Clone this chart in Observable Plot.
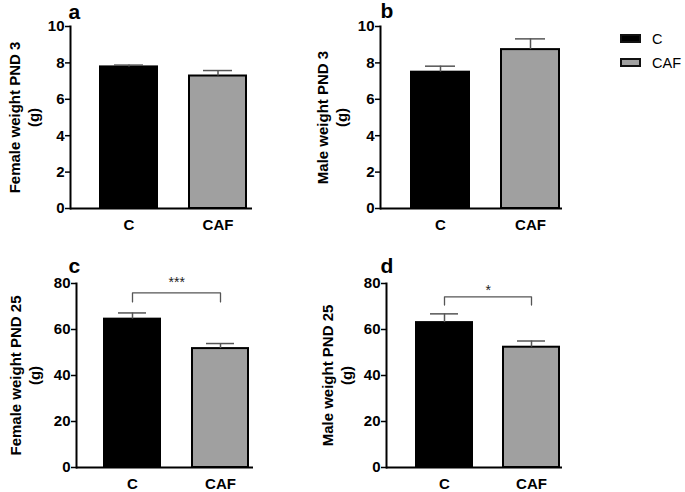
<!DOCTYPE html>
<html><head><meta charset="utf-8">
<script src="https://cdn.jsdelivr.net/npm/d3@7"></script>
<script src="https://cdn.jsdelivr.net/npm/@observablehq/plot@0.6"></script>
<style>
body{margin:0;background:#fff;font-family:"Liberation Sans",Arial,sans-serif;}
#wrap{position:relative;width:685px;height:492px;overflow:hidden;}
.panel{position:absolute;}
#legend{position:absolute;left:620px;top:31px;font-size:14.5px;color:#000;}
.row{display:flex;align-items:center;height:15px;margin-bottom:9px;}
.sw{width:21px;height:9px;box-sizing:border-box;}
.lab{margin-left:11px;}
</style></head><body><div id="wrap"><div id="legend"></div></div>
<script>
const groups = ["C", "CAF"];
const colors = ["#000000", "#a0a0a0"];
const panelLetters = ["a", "b", "c", "d"];
const yTitles = ["Female weight PND 3\n(g)", "Male weight PND 3\n(g)", "Female weight PND 25\n(g)", "Male weight PND 25\n(g)"];
const meansA = [7.78, 7.28];
const semA = [0.10, 0.30];
const meansB = [7.49, 8.73];
const semB = [0.33, 0.59];
const meansC = [64.5, 51.7];
const semC = [2.7, 2.2];
const meansD = [63.0, 52.3];
const semD = [3.8, 2.7];
const yTicksTop = [0, 2, 4, 6, 8, 10];
const yTicksBottom = [0, 20, 40, 60, 80];
const sigLabels = [null, null, "***", "*"];
const sigLabelY = [null, null, 78.4, 74.9];
const bracketTop = [null, null, 75.9, 74.2];
const bracketLeg = [null, null, 72.0, 70.6];

const panels = [
  {means: meansA, sem: semA, ticks: yTicksTop, domain: [0, 10], left: 0, top: 0, width: 260, height: 245, ml: 70, mt: 26, mb: 37, mr: 8, range: [100, 246], tdx: -47, ldx: -2, ldy: -8},
  {means: meansB, sem: semB, ticks: yTicksTop, domain: [0, 10], left: 260, top: 0, width: 310, height: 245, ml: 120, mt: 26, mb: 37, mr: 8, range: [151, 299], tdx: -49, ldx: 0, ldy: -9},
  {means: meansC, sem: semC, ticks: yTicksBottom, domain: [0, 80], left: 0, top: 250, width: 260, height: 242, ml: 76, mt: 33, mb: 25, mr: 7, range: [104, 249], tdx: -52, ldx: -8, ldy: -11},
  {means: meansD, sem: semD, ticks: yTicksBottom, domain: [0, 80], left: 260, top: 250, width: 310, height: 242, ml: 126, mt: 33, mb: 25, mr: 8, range: [156, 299], tdx: -50, ldx: -6, ldy: -11}
];
const pad = 0.36;
const wrap = document.getElementById("wrap");

panels.forEach((p, i) => {
  const data = groups.map((g, j) => ({group: g, mean: p.means[j], top: p.means[j] + p.sem[j]}));
  const step = (p.range[1] - p.range[0]) / (2 - pad);
  const marks = [
    Plot.barY(data, {x: "group", y: "mean", fill: "group", stroke: "#000", strokeWidth: 2}),
    Plot.ruleX(data, {x: "group", y1: "mean", y2: "top", stroke: "#555", strokeWidth: 1.5}),
    Plot.tickY(data, {x: "group", y: "top", stroke: "#555", strokeWidth: 1.5, insetLeft: 14, insetRight: 14}),
    Plot.ruleY([0], {stroke: "#000", strokeWidth: 2}),
    Plot.frame({anchor: "left", stroke: "#000", strokeWidth: 2}),
    Plot.axisY({ticks: p.ticks, tickSize: 5, tickPadding: 1, tickFormat: d3.format("d"), label: null, strokeWidth: 1.5, fontSize: 15}),
    Plot.axisX({tickSize: 0, tickPadding: 11, label: null, fontSize: 15}),
    Plot.text([yTitles[i]], {frameAnchor: "left", rotate: -90, dx: p.tdx, fontSize: 15, fontWeight: "bold", lineHeight: 1.25, lineAnchor: "middle", textAnchor: "middle", fill: "#000"}),
    Plot.text([panelLetters[i]], {frameAnchor: "top-left", dx: p.ldx, dy: p.ldy, fontSize: 21, fontWeight: "bold", textAnchor: "start", lineAnchor: "bottom", fill: "#000"})
  ];
  if (sigLabels[i]) {
    const br = [
      {group: "C", y: bracketLeg[i]}, {group: "C", y: bracketTop[i]},
      {group: "CAF", y: bracketTop[i]}, {group: "CAF", y: bracketLeg[i]}
    ];
    marks.push(Plot.line(br, {x: "group", y: "y", stroke: "#555", strokeWidth: 1.3}));
    marks.push(Plot.text([sigLabels[i]], {x: () => "C", y: () => sigLabelY[i], dx: step / 2, fontSize: 14, fontWeight: "normal", lineAnchor: "bottom", fill: "#222"}));
  }
  const chart = Plot.plot({
    width: p.width, height: p.height,
    marginLeft: p.ml, marginTop: p.mt, marginBottom: p.mb, marginRight: p.mr,
    style: {fontFamily: "Liberation Sans, Arial, sans-serif", fontSize: "15px", fontWeight: "bold", color: "#000", background: "transparent"},
    x: {domain: groups, range: p.range, paddingInner: pad, paddingOuter: 0, align: 0.5},
    y: {domain: p.domain},
    color: {domain: groups, range: colors},
    marks
  });
  const div = document.createElement("div");
  div.className = "panel";
  div.style.left = p.left + "px";
  div.style.top = p.top + "px";
  div.appendChild(chart);
  wrap.appendChild(div);
});

const legend = document.getElementById("legend");
groups.forEach((g, j) => {
  const row = document.createElement("div");
  row.className = "row";
  const sw = document.createElement("div");
  sw.className = "sw";
  sw.style.background = colors[j];
  sw.style.border = "2px solid #111";
  const lab = document.createElement("span");
  lab.className = "lab";
  lab.textContent = g;
  row.appendChild(sw);
  row.appendChild(lab);
  legend.appendChild(row);
});
</script></body></html>
